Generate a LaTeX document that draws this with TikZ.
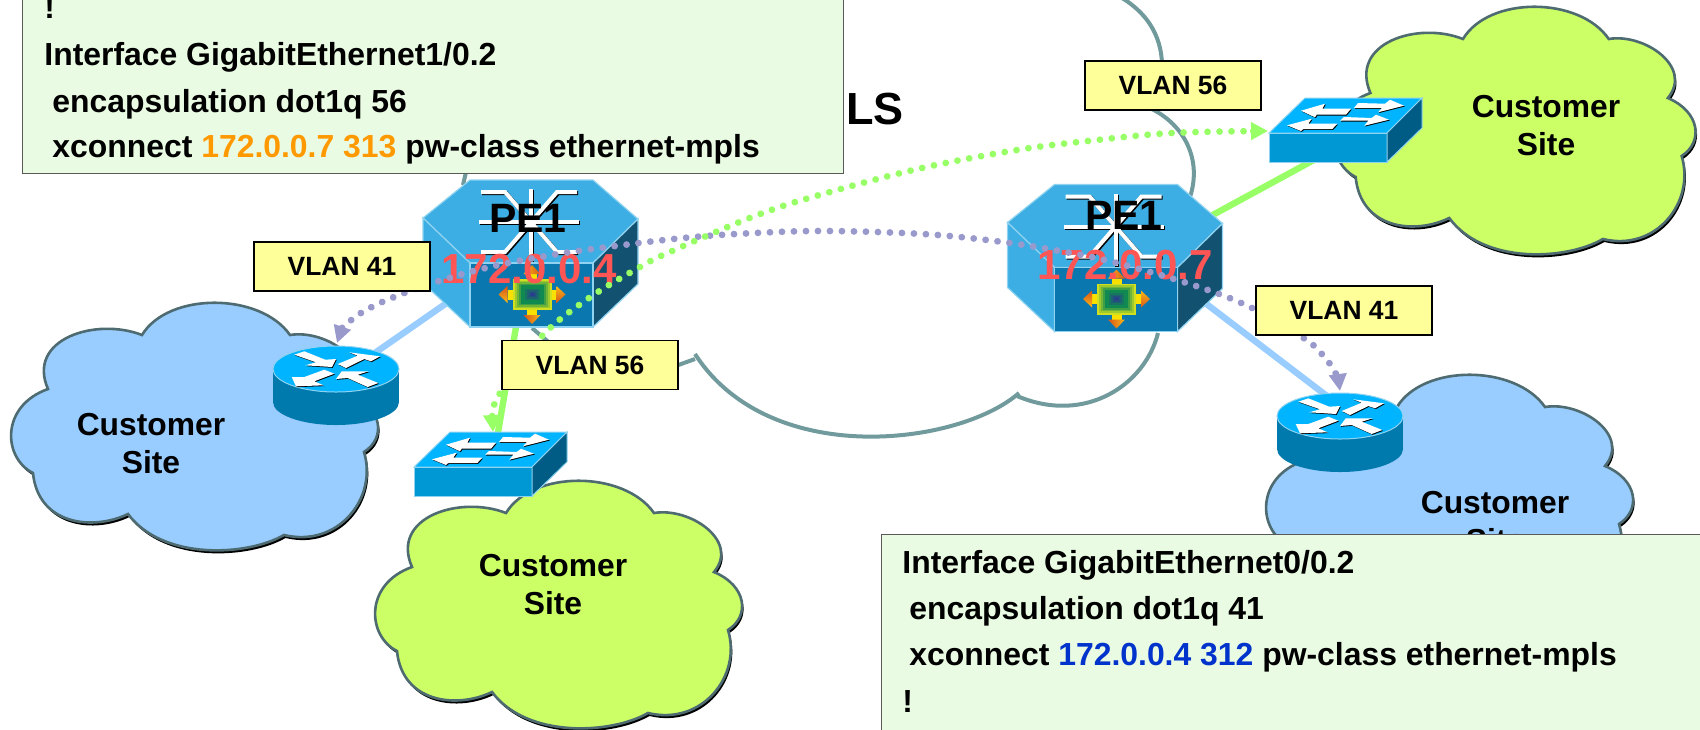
\documentclass[tikz,border=0pt]{standalone}
\usepackage{fontspec}
\setmainfont{Liberation Sans}
\usetikzlibrary{arrows.meta}
\definecolor{cloudblue}{HTML}{99CCFF}
\definecolor{cloudgreen}{HTML}{CCFF66}
\definecolor{cloudedge}{HTML}{4D6B70}
\definecolor{coreedge}{HTML}{709A9C}
\definecolor{petop}{HTML}{3DAEE3}
\definecolor{pefront}{HTML}{0A78AE}
\definecolor{peside}{HTML}{125170}
\definecolor{devtop}{HTML}{00B4FF}
\definecolor{swfront}{HTML}{0098D4}
\definecolor{swside}{HTML}{005C85}
\definecolor{rtside}{HTML}{0079AD}
\definecolor{devedge}{HTML}{8FD3F0}
\definecolor{vlanfill}{HTML}{FFFF99}
\definecolor{cfgfill}{HTML}{EAFBE3}
\definecolor{dotpurple}{HTML}{9999CC}
\definecolor{dotgreen}{HTML}{99FF66}
\definecolor{addrred}{HTML}{FF5555}
\definecolor{addrorange}{HTML}{FF9900}
\definecolor{addrblue}{HTML}{0033CC}
\definecolor{iconouter}{HTML}{D0E020}
\definecolor{iconmid}{HTML}{108A50}
\definecolor{iconinner}{HTML}{2A3A90}
\definecolor{headbase}{HTML}{F8B818}
\definecolor{headtip}{HTML}{D85518}
\definecolor{shaftcol}{HTML}{F8E000}
\begin{document}
\begin{tikzpicture}[x=0.5pt,y=-0.5pt,>={Triangle[length=8.5pt,width=8.5pt]},
	vlanbox/.style={draw=black,line width=0.6pt,fill=vlanfill,minimum width=88pt,minimum height=24.5pt,inner sep=0pt,font=\fontsize{13.2}{15}\selectfont\bfseries},
	sitelabel/.style={align=center,inner sep=0pt,font=\fontsize{15.9}{19}\selectfont\bfseries},
	cfgbox/.style={draw=black!65,line width=0.6pt,fill=cfgfill,anchor=north west,inner sep=0pt},
	cfgline/.style={anchor=base west,inner sep=0pt,font=\fontsize{15.95}{18}\selectfont\bfseries},
	pelabel/.style={anchor=base,inner sep=0pt,font=\fontsize{20.5}{22}\selectfont\bfseries},
	addrlabel/.style={anchor=base,inner sep=0pt,text=addrred,font=\fontsize{21}{23}\selectfont\bfseries},
	corepath/.style={draw=coreedge,line width=2pt},
	linkblue/.style={draw=cloudblue,line width=3.2pt},
	linkgreen/.style={draw=dotgreen,line width=3.2pt},
	dotline/.style={line width=3.4pt,line cap=round,dash pattern=on 0.01pt off 5.99pt}]
	\useasboundingbox (0,0) rectangle (1700,729);
	\clip (0,0) rectangle (1700,729);
	% cloud outline, origin at its top left
	\def\cloudshape{(134,32) .. controls (160,-11) and (252,-11) .. (282,32)
		.. controls (318,26) and (368,60) .. (342,91)
		.. controls (375,105) and (378,135) .. (356,149)
		.. controls (370,195) and (330,245) .. (276,232)
		.. controls (240,253) and (155,258) .. (120,211)
		.. controls (85,228) and (30,222) .. (25,170)
		.. controls (-5,155) and (-8,103) .. (40,86)
		.. controls (18,36) and (88,14) .. cycle}
	\def\drawCloud(#1,#2)#3#4{
		\begin{scope}[shift={(#1,#2)},xscale=#4]
			\fill[black,shift={(1.5,3)}] \cloudshape;
			\draw[draw=cloudedge,line width=1.3pt,fill=#3] \cloudshape;
		\end{scope}}
	\def\drawPE(#1,#2){
		\begin{scope}[shift={(#1,#2)},draw=devedge,line width=0.6pt]
			\filldraw[fill=petop] (-47,38)--(0,0)--(123,0)--(168,39)--(123,83)--(0,83)--cycle;
			\filldraw[fill=petop] (-47,38)--(0,83)--(0,147)--(-47,103)--cycle;
			\filldraw[fill=peside] (123,83)--(168,39)--(168,104)--(123,147)--cycle;
			\filldraw[fill=pefront] (0,83) rectangle (123,147);
			\foreach \c/\s in {black/1.2,white/0}{
				\draw[\c,line width=2pt,shift={(\s,\s)}] (11,12)--(35,12)--(87,72)--(107,72);
				\draw[\c,line width=2pt,shift={(\s,\s)}] (107,12)--(87,12)--(35,72)--(11,72);
				\draw[\c,line width=2pt,shift={(\s,\s)}] (9,42)--(109,42);
				\draw[\c,line width=2pt,shift={(\s,\s)}] (61,9)--(61,81);
			}
			\begin{scope}[shift={(62,114.5)}]
				\foreach \r/\h in {0/19.5,90/15.5,180/19.5,270/15.5}{
					\fill[shaftcol,rotate=\r] (\h,-5) rectangle (\h+5,5);
					\shade[rotate=\r,left color=headbase,right color=headtip,shading angle=\r] (\h+5,-8.5)--(\h+14,0)--(\h+5,8.5)--cycle;
				}
				\foreach \k in {0,...,4}{
					\pgfmathsetmacro{\mixval}{100-\k*25}
					\fill[iconouter!\mixval!iconmid] ({-19.5+\k*2},{-15.5+\k*1.6}) rectangle ({19.5-\k*2},{15.5-\k*1.6});
				}
				\foreach \k in {5,...,9}{
					\pgfmathsetmacro{\mixval}{(9-\k)*25}
					\fill[iconmid!\mixval!iconinner] ({-19.5+\k*2},{-15.5+\k*1.6}) rectangle ({19.5-\k*2},{15.5-\k*1.6});
				}
			\end{scope}
		\end{scope}}
	\def\drawSwitch(#1,#2){
		\begin{scope}[shift={(#1,#2)},draw=devedge,line width=0.5pt]
			\filldraw[fill=devtop] (0,0)--(117,0)--(82,35)--(-36,35)--cycle;
			\filldraw[fill=swfront] (-36,35) rectangle (82,64);
			\filldraw[fill=swside] (82,35)--(117,0)--(117,30)--(82,64)--cycle;
			\foreach \c/\s in {black/0.8,white/0}{
				\fill[\c,shift={(\s,\s)}] (-4,12.7)--(20,5.7)--(17.3,10.7)--(46,10.7)--(41,16.7)--(11.7,16.7)--(10,19.3)--cycle;
				\fill[\c,shift={(\s,\s)}] (99,7.7)--(85,1.7)--(80,5.7)--(53,5)--(49,10)--(77,10)--(73,14.3)--cycle;
				\fill[\c,shift={(\s,\s)}] (-18,27.3)--(6.7,20.7)--(3.3,25.7)--(32.3,25.7)--(27.3,31)--(-1.7,31)--(-4,33)--cycle;
				\fill[\c,shift={(\s,\s)}] (84,21.7)--(71,16.7)--(66.7,20)--(39,19)--(35,22.7)--(63.3,22.7)--(59.3,27.7)--cycle;
			}
		\end{scope}}
	\def\drawRouter(#1,#2){
		\begin{scope}[shift={(#1,#2)}]
			\fill[rtside] (-63,0) rectangle (63,33);
			\fill[rtside] (0,33) ellipse (63 and 23);
			\filldraw[draw=devedge,line width=0.5pt,fill=devtop] (0,0) ellipse (63 and 23);
			\foreach \c/\s in {black/0.8,white/0}{
				\fill[\c,shift={(\s,\s)}] (-41.7,-14.3)--(-31.7,-17.7)--(-10.7,-9.3)--(0,-10)--(-4,-2)--(-30.7,-3.7)--(-20,-6.7)--cycle;
				\fill[\c,shift={(\s,\s)}] (1.7,-5)--(21.7,-13.3)--(13.3,-16.7)--(44,-12.7)--(35,-7.7)--(28.3,-10)--(10,-1)--cycle;
				\fill[\c,shift={(\s,\s)}] (-40,17.3)--(-44.3,8)--(-31.7,8)--(-11.7,0.7)--(-1.7,4.7)--(-21.7,12.3)--(-12.3,16.3)--cycle;
				\fill[\c,shift={(\s,\s)}] (0,10)--(5.7,2.3)--(32.7,2.3)--(21.7,5.7)--(42.3,14)--(31.7,18)--(11.7,9)--cycle;
			}
		\end{scope}}

	% core cloud
	\node[font=\fontsize{22.5}{25}\selectfont\bfseries,anchor=base west,inner sep=0pt] (lblCore) at (846,124) {LS};
	\draw[corepath] (1122,-2) .. controls (1150,15) and (1163,40) .. (1162,70);
	\draw[corepath] (1150,108) .. controls (1185,125) and (1202,160) .. (1190,197);
	\draw[corepath] (1158,333) .. controls (1145,385) and (1085,425) .. (1017,396);
	\draw[corepath] (1019,393) .. controls (960,445) and (770,470) .. (695,354);
	\draw[corepath] (695,359)--(670,368);
	\draw[corepath] (532,328)--(552,345);
	\draw[corepath] (466,172)--(463,185);

	\drawCloud(8,303){cloudblue}{1}
	\drawCloud(372,481){cloudgreen}{1}
	\drawCloud(1331,7){cloudgreen}{0.985}
	\drawCloud(1263,375){cloudblue}{1}
	\node[sitelabel] (lblSiteA) at (151,444) {Customer\\Site};
	\node[sitelabel] (lblSiteB) at (553,585) {Customer\\Site};
	\node[sitelabel] (lblSiteC) at (1546,126) {Customer\\Site};
	\node[sitelabel] (lblSiteD) at (1495,522) {Customer\\Site};

	% access links
	\coordinate (peA) at (530,245);
	\coordinate (peB) at (1141,254);
	\coordinate (rtA) at (336,380);
	\coordinate (rtB) at (1340,406);
	\coordinate (swA) at (495,450);
	\coordinate (swB) at (1345,143);
	\draw[linkblue] (peA)--(rtA);
	\draw[linkgreen] (peA)--(swA);
	\draw[linkblue] (peB)--(rtB);
	\draw[linkgreen] (peB)--(swB);

	\drawPE(470,180)
	\drawPE(1054.5,184.5)
	\drawSwitch(450,432)
	\drawSwitch(1305,98)
	\drawRouter(336,369)
	\drawRouter(1340,416)

	\node[pelabel] (lblPeA) at (528,232) {PE1};
	\node[pelabel] (lblPeB) at (1124,229) {PE1};
	\node[addrlabel] (lblAddrA) at (529,283) {172.0.0.4};
	\node[addrlabel] (lblAddrB) at (1125,279) {172.0.0.7};

	% pseudowires
	\coordinate (tipRtA) at (337,343);
	\coordinate (tipRtB) at (1340,391);
	\coordinate (tipSwA) at (493,432);
	\coordinate (tipSwB) at (1268,131);
	\draw[dotline,dotpurple,<->] plot[smooth,tension=0.6] coordinates {(tipRtA) (349,322) (380,303) (436,282) (494,266) (552,255) (600,248) (683,238) (755,233) (827,231) (923,234) (995,241) (1054,250) (1113,262) (1193,285) (1250,307) (1302,337) (1320,352) (1335,372) (tipRtB)};
	\draw[dotline,dotgreen,<->] plot[smooth,tension=0.6] coordinates {(tipSwA) (500,393) (542,336) (589,298) (640,267) (672,251) (760,214) (830,192) (922,168) (1017,150) (1088,141) (1172,133) (tipSwB)};

	\node[vlanbox] (vlanA) at (342,266.5) {VLAN 41};
	\node[vlanbox] (vlanB) at (590,365) {VLAN 56};
	\node[vlanbox] (vlanC) at (1173,85.5) {VLAN 56};
	\node[vlanbox] (vlanD) at (1344,310.5) {VLAN 41};

	% configuration boxes
	\node[cfgbox,minimum width=410.5pt,minimum height=100pt] (cfgA) at (22,-27) {};
	\node[cfgline] (cfgA0) at (44,18) {!};
	\node[cfgline] (cfgA1) at (44,65) {Interface GigabitEthernet1/0.2};
	\node[cfgline] (cfgA2) at (52,112) {encapsulation dot1q 56};
	\node[cfgline] (cfgA3) at (52,157) {xconnect \textcolor{addrorange}{172.0.0.7 313} pw-class ethernet-mpls};
	\node[cfgbox,minimum width=420pt,minimum height=110pt] (cfgB) at (881,534) {};
	\node[cfgline] (cfgB1) at (902,573) {Interface GigabitEthernet0/0.2};
	\node[cfgline] (cfgB2) at (909,619) {encapsulation dot1q 41};
	\node[cfgline] (cfgB3) at (909,665) {xconnect \textcolor{addrblue}{172.0.0.4 312} pw-class ethernet-mpls};
	\node[cfgline] (cfgB4) at (902,712) {!};
\end{tikzpicture}
\end{document}
